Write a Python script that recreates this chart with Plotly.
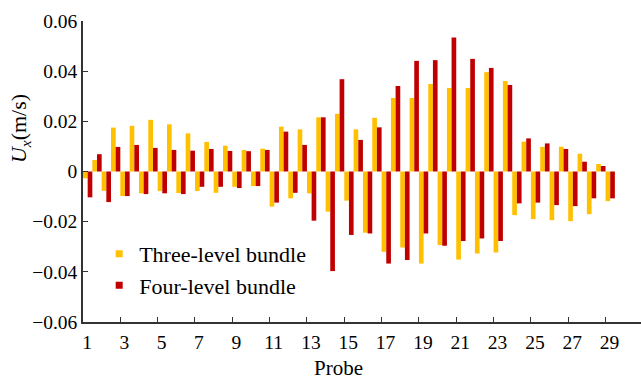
import plotly.graph_objects as go

probes = list(range(1, 30))

# Positive (upward) peaks, m/s  (probe 1 positive not visible in reference)
three_pos = [None, 0.0046, 0.0175, 0.0182, 0.0206, 0.0188, 0.0152, 0.0118, 0.0103, 0.0086,
             0.0091, 0.0179, 0.0168, 0.0216, 0.0230, 0.0168, 0.0214, 0.0293, 0.0293, 0.0349,
             0.0333, 0.0333, 0.0396, 0.0361, 0.0119, 0.0098, 0.0099, 0.0071, 0.0030]
four_pos = [None, 0.0069, 0.0098, 0.0106, 0.0094, 0.0086, 0.0083, 0.0090, 0.0082, 0.0081,
            0.0086, 0.0159, 0.0106, 0.0216, 0.0368, 0.0126, 0.0176, 0.0341, 0.0441, 0.0444,
            0.0534, 0.0449, 0.0413, 0.0345, 0.0132, 0.0112, 0.0090, 0.0039, 0.0022]

# Negative (downward) peaks, m/s
three_neg = [-0.0027, -0.0077, -0.0098, -0.0087, -0.0078, -0.0086, -0.0078, -0.0085, -0.0061, -0.0058,
             -0.0140, -0.0107, -0.0087, -0.0160, -0.0116, -0.0244, -0.0320, -0.0303, -0.0367, -0.0293,
             -0.0351, -0.0327, -0.0323, -0.0174, -0.0190, -0.0194, -0.0198, -0.0170, -0.0118]
four_neg = [-0.0103, -0.0122, -0.0098, -0.0090, -0.0087, -0.0090, -0.0061, -0.0061, -0.0066, -0.0058,
            -0.0124, -0.0085, -0.0196, -0.0397, -0.0253, -0.0247, -0.0367, -0.0353, -0.0247, -0.0296,
            -0.0277, -0.0267, -0.0277, -0.0127, -0.0124, -0.0134, -0.0138, -0.0107, -0.0107]

x_tickvals = list(range(1, 30, 2))
x_ticktext = [str(v) for v in x_tickvals]
y_tickvals = [-0.06, -0.04, -0.02, 0, 0.02, 0.04, 0.06]
y_ticktext = ["\u22120.06", "\u22120.04", "\u22120.02", "0", "0.02", "0.04", "0.06"]

ORANGE = "#FFC000"
RED = "#C00000"
FONT = "'Liberation Serif', 'Times New Roman', 'DejaVu Serif', serif"

fig = go.Figure()
bw = 0.25
for vals, color, off in [(three_pos, ORANGE, -0.5), (four_pos, RED, -0.25),
                         (three_neg, ORANGE, 0.0), (four_neg, RED, 0.25)]:
    fig.add_trace(go.Bar(x=probes, y=vals, width=bw, offset=off,
                         marker=dict(color=color, line=dict(width=0)),
                         showlegend=False, hoverinfo="skip"))

for name, color in [("Three-level bundle", ORANGE), ("Four-level bundle", RED)]:
    fig.add_trace(go.Scatter(x=[None], y=[None], mode="markers", name=name,
                             marker=dict(symbol="square", size=7, color=color)))

fig.update_layout(
    width=641, height=381,
    margin=dict(l=83, r=0, t=21, b=59),
    paper_bgcolor="white", plot_bgcolor="white",
    barmode="overlay",
    font=dict(family=FONT, color="black", size=19),
    legend=dict(x=0.029, y=0.173, xanchor="left", yanchor="middle",
                bgcolor="rgba(0,0,0,0)", font=dict(size=22, family=FONT),
                tracegroupgap=0),
    showlegend=True,
)
fig.update_xaxes(range=[1, 30.9], tickvals=x_tickvals, ticktext=x_ticktext,
                 ticks="inside", ticklen=5, tickwidth=1.2, tickcolor="#333",
                 showline=True, linecolor="#333", linewidth=1.5,
                 showgrid=False, zeroline=False, ticklabelshift=4, ticklabelstandoff=2,
                 tickfont=dict(size=19.5, family=FONT))
fig.update_yaxes(range=[-0.06, 0.06], tickvals=y_tickvals, ticktext=y_ticktext,
                 ticks="inside", ticklen=5, tickwidth=1.2, tickcolor="#333",
                 showline=True, linecolor="#333", linewidth=1.5,
                 showgrid=False, zeroline=False,
                 tickfont=dict(size=19.5, family=FONT))

fig.add_annotation(text="Probe", xref="paper", yref="paper", x=0.457, y=-0.152,
                   xanchor="center", yanchor="middle", showarrow=False,
                   font=dict(size=21, family=FONT))
fig.add_annotation(text="<i>U</i><sub><i>x</i></sub>(m/s)", xref="paper", yref="paper",
                   x=(20 - 83) / 558, y=(321.7 - 129) / 300.7, xanchor="center", yanchor="middle",
                   textangle=-90, showarrow=False, font=dict(size=22, family=FONT))

fig.write_html("out.html")
